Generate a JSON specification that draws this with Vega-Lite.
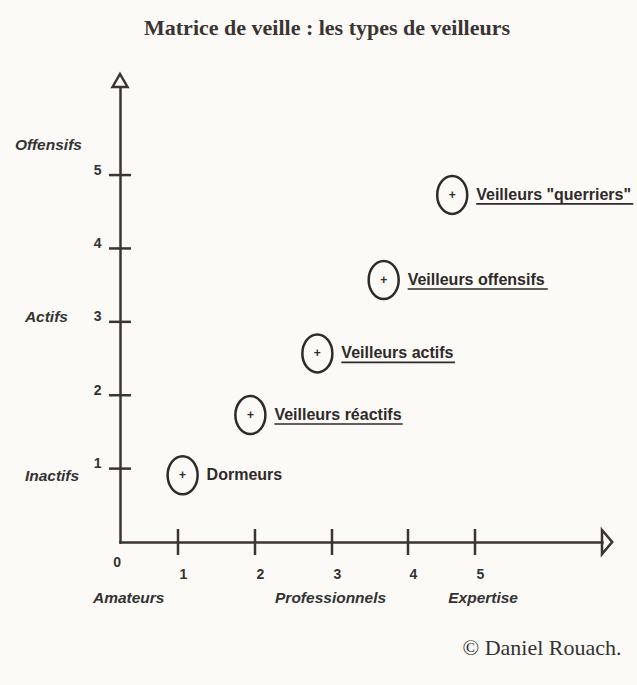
{
  "$schema": "https://vega.github.io/schema/vega-lite/v6.json",
  "width": 482,
  "height": 455,
  "autosize": {"type": "none"},
  "padding": {"left": 120, "top": 87, "right": 35, "bottom": 143},
  "background": "#fbfaf6",
  "title": {
    "text": "Matrice de veille : les types de veilleurs",
    "font": "Liberation Serif",
    "fontSize": 22,
    "fontWeight": "bold",
    "color": "#3a3432",
    "anchor": "middle",
    "dx": -34,
    "offset": 29
  },
  "config": {"view": {"stroke": null}},
  "datasets": {
    "ticksX": [{"x": 1, "y": 0}, {"x": 2, "y": 0}, {"x": 3, "y": 0}, {"x": 4, "y": 0}, {"x": 5, "y": 0}],
    "ticksY": [{"x": 0, "y": 1}, {"x": 0, "y": 2}, {"x": 0, "y": 3}, {"x": 0, "y": 4}, {"x": 0, "y": 5}],
    "arrowX": [{"x": 6.5, "y": 0}],
    "arrowY": [{"x": 0, "y": 6.2}],
    "points": [
      {"name": "Dormeurs", "x": 1.06, "y": 0.91},
      {"name": "Veilleurs réactifs", "x": 1.94, "y": 1.73, "ux2": 3.93},
      {"name": "Veilleurs actifs", "x": 2.81, "y": 2.57, "ux2": 4.7},
      {"name": "Veilleurs offensifs", "x": 3.68, "y": 3.57, "ux2": 5.86},
      {"name": "Veilleurs \"querriers\"", "x": 4.66, "y": 4.73, "ux2": 6.87}
    ],
    "labels": [
      {"text": "Offensifs", "x": -1.81, "y": 5.41, "kind": "name"},
      {"text": "Actifs", "x": -1.64, "y": 3.065, "kind": "name"},
      {"text": "Inactifs", "x": -1.64, "y": 0.9, "kind": "name"},
      {"text": "Amateurs", "x": -0.466, "y": -0.763, "kind": "name"},
      {"text": "Professionnels", "x": 2.26, "y": -0.763, "kind": "name"},
      {"text": "Expertise", "x": 4.6, "y": -0.763, "kind": "name"},
      {"text": "0", "x": -0.05, "y": -0.286, "kind": "origin"}
    ]
  },
  "encoding": {
    "x": {
      "field": "x",
      "type": "quantitative",
      "scale": {"domain": [0, 1, 2, 3, 4, 5, 6.5], "range": [0, 58, 135, 212, 288, 355, 482], "nice": false, "zero": false},
      "axis": {
        "values": [1, 2, 3, 4, 5],
        "ticks": false,
        "tickSize": 0,
        "grid": false,
        "domainColor": "#3b3432",
        "domainWidth": 2.5,
        "domainCap": "square",
        "labelFont": "Liberation Sans",
        "labelFontSize": 14,
        "labelFontWeight": "bold",
        "labelColor": "#333333",
        "labelPadding": 25,
        "labelOffset": 5,
        "labelFlush": false,
        "labelOverlap": false,
        "title": "© Daniel Rouach.",
        "titleFont": "Liberation Serif",
        "titleFontSize": 22,
        "titleFontWeight": "normal",
        "titleColor": "#333333",
        "titleAlign": "left",
        "titleBaseline": "middle",
        "titleX": 342,
        "titleY": 105
      }
    },
    "y": {
      "field": "y",
      "type": "quantitative",
      "scale": {"domain": [0, 6.2], "nice": false, "zero": false},
      "axis": {
        "values": [1, 2, 3, 4, 5],
        "ticks": false,
        "tickSize": 0,
        "grid": false,
        "domainColor": "#3b3432",
        "domainWidth": 2.5,
        "domainCap": "square",
        "labelFont": "Liberation Sans",
        "labelFontSize": 14,
        "labelFontWeight": "bold",
        "labelColor": "#333333",
        "labelPadding": 19,
        "labelOffset": -5,
        "labelFlush": false,
        "labelOverlap": false,
        "title": null
      }
    }
  },
  "layer": [
    {
      "data": {"name": "ticksX"},
      "mark": {"type": "tick", "orient": "vertical", "size": 26, "thickness": 2.5, "color": "#3b3432", "opacity": 1}
    },
    {
      "data": {"name": "ticksY"},
      "mark": {"type": "tick", "orient": "horizontal", "size": 22, "thickness": 2.5, "color": "#3b3432", "opacity": 1}
    },
    {
      "data": {"name": "arrowX"},
      "mark": {"type": "point", "shape": "M 0,-1 L 0.85,0 L 0,1 Z", "size": 576, "filled": false, "stroke": "#3b3432", "strokeWidth": 2.5, "strokeJoin": "miter", "opacity": 1}
    },
    {
      "data": {"name": "arrowY"},
      "mark": {"type": "point", "shape": "M -0.75,0 L 0,-1.3 L 0.75,0 Z", "size": 400, "filled": false, "stroke": "#3b3432", "strokeWidth": 2.5, "strokeJoin": "miter", "opacity": 1}
    },
    {
      "data": {"name": "points"},
      "mark": {"type": "point", "shape": "M -0.79,0 A 0.79,1 0 1,1 0.79,0 A 0.79,1 0 1,1 -0.79,0 Z", "size": 1444, "filled": false, "stroke": "#2e2a29", "strokeWidth": 2.5, "opacity": 1}
    },
    {
      "data": {"name": "points"},
      "mark": {"type": "text", "text": "+", "font": "Liberation Sans", "fontSize": 12, "fontWeight": "bold", "color": "#2e2a29", "align": "center", "baseline": "middle"}
    },
    {
      "data": {"name": "points"},
      "mark": {"type": "text", "font": "Liberation Sans", "fontSize": 16, "fontWeight": "bold", "color": "#2e2a29", "align": "left", "baseline": "middle", "dx": 24},
      "encoding": {"text": {"field": "name"}}
    },
    {
      "data": {"name": "points"},
      "transform": [{"filter": "isValid(datum.ux2)"}],
      "mark": {"type": "rule", "color": "#2e2a29", "strokeWidth": 1.6, "xOffset": 24, "yOffset": 9},
      "encoding": {"x2": {"field": "ux2"}}
    },
    {
      "data": {"name": "labels"},
      "transform": [{"filter": "datum.kind == 'name'"}],
      "mark": {"type": "text", "font": "Liberation Sans", "fontSize": 15.5, "fontWeight": "bold", "fontStyle": "italic", "color": "#333333", "align": "left", "baseline": "middle"},
      "encoding": {"text": {"field": "text"}}
    },
    {
      "data": {"name": "labels"},
      "transform": [{"filter": "datum.kind == 'origin'"}],
      "mark": {"type": "text", "font": "Liberation Sans", "fontSize": 14, "fontWeight": "bold", "color": "#333333", "align": "center", "baseline": "middle"},
      "encoding": {"text": {"field": "text"}}
    }
  ]
}
